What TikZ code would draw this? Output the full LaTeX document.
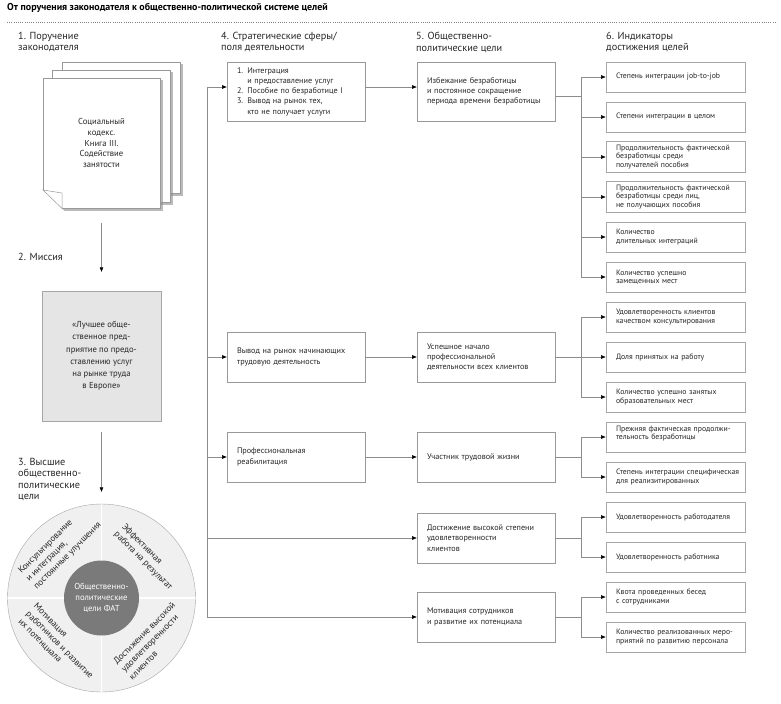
\documentclass[tikz,border=0pt]{standalone}
\usepackage{fontspec}
\setmainfont{PT Sans}
\usetikzlibrary{positioning,arrows.meta,shadows}

\begin{document}
\begin{tikzpicture}[x=1bp, y=-1bp,
    >={Triangle[length=4.5bp,width=3.5bp,color=black]},
    line/.style={draw=black!45, line width=0.5bp},
    head/.style={anchor=north west, inner sep=0pt, align=left, text=black!85, font=\fontsize{10.3}{11.5}\selectfont},
    fieldbox/.style={draw=black!40, line width=0.6bp, minimum width=138bp, minimum height=50bp, text width=118bp, inner xsep=10bp, align=left, text=black!85, font=\fontsize{8.2}{10.3}\selectfont},
    indbox/.style={draw=black!35, line width=0.8bp, minimum width=139bp, minimum height=30bp, text width=119bp, inner xsep=10bp, align=left, text=black!85, font=\fontsize{7.8}{8.3}\selectfont},
    page/.style={draw=black!40, line width=0.5bp, fill=white, minimum width=117bp, minimum height=130bp, drop shadow={shadow xshift=2.5bp, shadow yshift=-2.5bp, fill=black!45, opacity=0.6}},
    quarter/.style={align=left, inner sep=0pt, text=black!85, font=\fontsize{9}{11}\selectfont}]
    \useasboundingbox (0,0) rectangle (781,704);

    % title
    \node[anchor=west, inner sep=0pt, font=\bfseries\fontsize{10}{12}\selectfont] (title) at (7,8) {От поручения законодателя к общественно-политической системе целей};
    \draw[black!50, dash pattern=on 0.7bp off 1.5bp] (7,22.5) -- (775,22.5);

    % column heads
    \node[head] (h1) at (18,32) {1. Поручение\\законодателя};
    \node[head] (h4) at (221,32) {4. Стратегические сферы/\\поля деятельности};
    \node[head] (h5) at (416,32) {5. Общественно-\\политические цели};
    \node[head] (h6) at (606,32) {6. Индикаторы\\достижения целей};
    \node[head, anchor=west] (h2) at (18,257) {2. Миссия};
    \node[head] (h3) at (18,458) {3. Высшие\\общественно-\\политические\\цели};

    % code book
    \node[page, minimum width=118bp, minimum height=131bp] (back) at (121,127.5) {};
    \node[page, minimum width=118bp, minimum height=132bp] (middle) at (111,136) {};
    \node[page, align=center, text=black!85, font=\fontsize{8.7}{11}\selectfont] (code) at (101.5,143) {Социальный\\кодекс.\\Книга III.\\Содействие\\занятости};
    \fill[white] (41.5,188.5) -- (41.5,212) -- (65.5,212) -- cycle;
    \filldraw[fill=white, draw=black!40, line width=0.5bp] (43,190) -- (62,193) -- (62,208.5) -- cycle;

    % mission
    \node[draw=black!35, fill=black!10, minimum width=119bp, minimum height=130bp, align=center, text=black!85, font=\fontsize{8.7}{12.3}\selectfont] (mission) at (101.5,356) {«Лучшее обще-\\ственное пред-\\приятие по предо-\\ставлению услуг\\на рынке труда\\в Европе»};

    % wheel of goals
    \node[circle, draw=black!35, fill=black!6, minimum size=188bp, inner sep=0pt] (wheel) at (101.5,598) {};
    \draw[white, line width=1.2bp, shorten <=0.7bp, shorten >=0.7bp] (wheel.north) -- (wheel.south);
    \draw[white, line width=1.2bp, shorten <=0.7bp, shorten >=0.7bp] (wheel.west) -- (wheel.east);
    \node[circle, fill=black!52, minimum size=75bp, inner sep=0pt, align=center, text=white, font=\fontsize{8.7}{11}\selectfont] (core) at (wheel) {Общественно-\\политические\\цели ФАТ};
    \node[quarter, rotate=45] (q1) at (60,548) {Консультирование\\и интеграция,\\постоянные улучшения};
    \node[quarter, rotate=-45] (q2) at (147,557) {Эффективная\\работа на результат};
    \node[quarter, rotate=-45] (q3) at (59.5,645) {Мотивация\\работников и развитие\\их потенциала};
    \node[quarter, rotate=45] (q4) at (152,641) {Достижение высокой\\удовлетворенности\\клиентов};

    \draw[line,->] ([yshift=-15bp]code.south) -- ([yshift=19bp]mission.north);
    \draw[line,->] ([yshift=-11bp]mission.south) -- ([yshift=12bp]wheel.north);

    % fields and goals
    \node[fieldbox, minimum height=59bp] (s1) at (296,91.5) {1. Интеграция\\\phantom{1. }и предоставление услуг\\2. Пособие по безработице I\\3. Вывод на рынок тех,\\\phantom{3. }кто не получает услуги};
    \node[fieldbox] (s2) at (296,357) {Вывод на рынок начинающих\\трудовую деятельность};
    \node[fieldbox] (s3) at (296,457) {Профессиональная\\реабилитация};
    \node[fieldbox, minimum height=59bp] (g1) at (486,91.5) {Избежание безработицы\\и постоянное сокращение\\периода времени безработицы};
    \node[fieldbox] (g2) at (486,357) {Успешное начало\\профессиональной\\деятельности всех клиентов};
    \node[fieldbox] (g3) at (486,457) {Участник трудовой жизни};
    \node[fieldbox] (g4) at (486,538) {Достижение высокой степени\\удовлетворенности\\клиентов};
    \node[fieldbox] (g5) at (486,617) {Мотивация сотрудников\\и развитие их потенциала};

    \coordinate (spine) at (207,0);
    \draw[line] ([yshift=4.5bp]s1.west -| spine) -- (g5.west -| spine);
    \draw[line,->] ([yshift=4.5bp]s1.west -| spine) -- ([yshift=4.5bp]s1.west);
    \draw[line,->] ([yshift=4.5bp]s1.east) -- ([yshift=4.5bp]g1.west);
    \foreach \n in {s2,s3,g4,g5}
        \draw[line,->] (\n.west -| spine) -- (\n.west);
    \foreach \n/\m in {s2/g2,s3/g3}
        \draw[line,->] (\n) -- (\m);

    % indicators
    \foreach \t [count=\i] in {{Степень интеграции job-to-job},
        {Степени интеграции в целом},
        {Продолжительность фактической\\безработицы среди\\получателей пособия},
        {Продолжительность фактической\\безработицы среди лиц,\\не получающих пособия},
        {Количество\\длительных интеграций},
        {Количество успешно\\замещенных мест},
        {Удовлетворенность клиентов\\качеством консультирования},
        {Доля принятых на работу},
        {Количество успешно занятых\\образовательных мест},
        {Прежняя фактическая продолжи-\\тельность безработицы\\~},
        {\mbox{Степень интеграции специфическая}\\для реализитированных},
        {Удовлетворенность работодателя},
        {Удовлетворенность работника},
        {Квота проведенных бесед\\с сотрудниками},
        {\mbox{Количество реализованных меро-}\\приятий по развитию персонала}}
        \node[indbox] (ind\i) at (675.5,37+40*\i) {\t};

    \coordinate (branch) at (581,0);
    \draw[line] ([yshift=-4.5bp]g1.east) -- ([yshift=-4.5bp]g1.east -| branch);
    \foreach \g in {g2,g3,g4,g5}
        \draw[line] (\g.east) -- (\g.east -| branch);
    \foreach \a/\b in {1/6, 7/9, 10/11, 12/13, 14/15} {
        \draw[line] (ind\a.west -| branch) -- (ind\b.west -| branch);
        \foreach \k in {\a,...,\b}
            \draw[line,->] (ind\k.west -| branch) -- (ind\k.west);
    }
\end{tikzpicture}
\end{document}
